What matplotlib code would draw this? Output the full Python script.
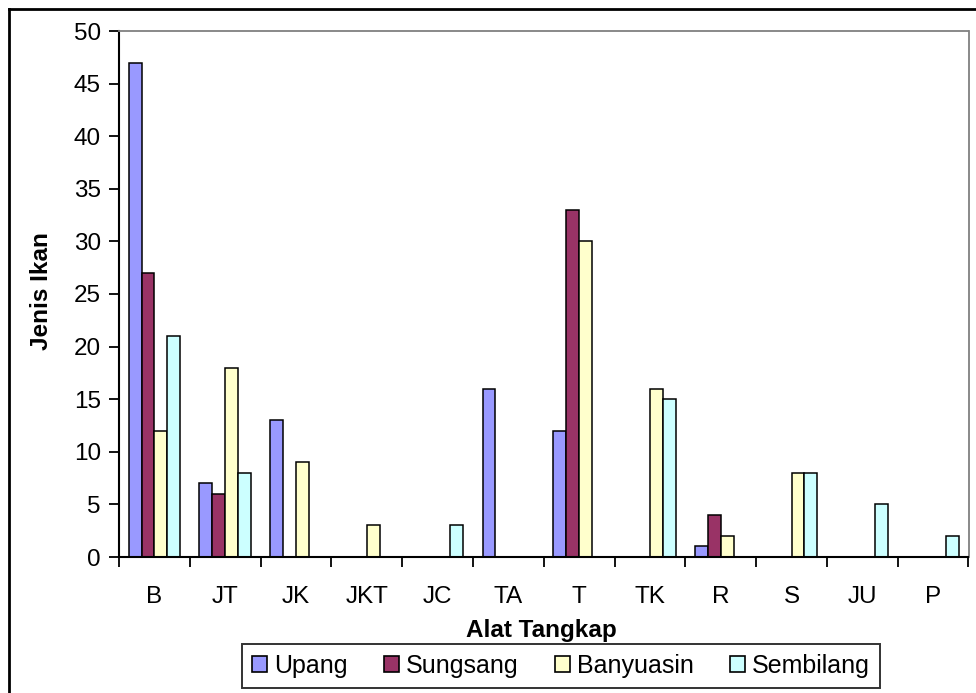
import numpy as np
import matplotlib.pyplot as plt
from matplotlib.lines import Line2D
from matplotlib.patches import Patch

plt.rcParams['font.family'] = ['Liberation Sans', 'DejaVu Sans']

# data
categories = ['B', 'JT', 'JK', 'JKT', 'JC', 'TA', 'T', 'TK', 'R', 'S', 'JU', 'P']
series = ['Upang', 'Sungsang', 'Banyuasin', 'Sembilang']
upang = [47, 7, 13, 0, 0, 16, 12, 0, 1, 0, 0, 0]
sungsang = [27, 6, 0, 0, 0, 0, 33, 0, 4, 0, 0, 0]
banyuasin = [12, 18, 9, 3, 0, 0, 30, 16, 2, 8, 0, 0]
sembilang = [21, 8, 0, 0, 3, 0, 0, 15, 0, 8, 5, 2]
colors = ['#9999FF', '#993366', '#FFFFCC', '#CCFFFF']

W, H = 976, 693
fig = plt.figure(figsize=(W / 100, H / 100), dpi=100)
ax = fig.add_axes([119 / W, 1 - 557 / H, (968.5 - 119) / W, (557 - 31) / H])

x = np.arange(len(categories))
w = 1 / 5.5
for i, (vals, c, name) in enumerate(zip([upang, sungsang, banyuasin, sembilang], colors, series)):
    ax.bar(x + (i - 1.5) * w, vals, w, color=c, edgecolor='black', linewidth=1.1,
           label=name, zorder=2)

ax.set_xlim(-0.5, len(categories) - 0.5)
ax.set_ylim(0, 50)
ax.set_yticks(np.arange(0, 51, 5))
ax.set_xticks(np.arange(-0.5, len(categories), 1))
ax.set_xticklabels([])
ax.set_xticks(x, minor=True)
ax.set_xticklabels(categories, minor=True)
ax.tick_params(axis='x', which='major', direction='out', length=7, width=1.3)
ax.tick_params(axis='x', which='minor', length=0, pad=21, labelsize=17.5)
ax.tick_params(axis='y', direction='out', length=7, width=1.3, pad=6, labelsize=17.5)

for s in ['top', 'right']:
    ax.spines[s].set_color('#808080')
    ax.spines[s].set_linewidth(1.3)
for s in ['left', 'bottom']:
    ax.spines[s].set_color('black')
    ax.spines[s].set_linewidth(1.5)

fig.text(541 / W, 1 - 630 / H, 'Alat Tangkap', ha='center', va='center',
         fontsize=17.5, fontweight='bold')
fig.text(42 / W, 1 - 291 / H, 'Jenis Ikan', ha='center', va='center',
         rotation=90, fontsize=17.5, fontweight='bold')

handles = [Patch(facecolor=c, edgecolor='black', linewidth=1.2) for c in colors]
leg = fig.legend(handles, series, loc='center', bbox_to_anchor=(561 / W, 1 - 666 / H),
                 ncol=4, fontsize=18, frameon=True, fancybox=False,
                 handlelength=0.6, handleheight=0.6, handletextpad=0.28,
                 columnspacing=1.45, borderpad=0.4, borderaxespad=0)
leg.get_frame().set_edgecolor('black')
leg.get_frame().set_linewidth(1.4)

# outer chart frame
fig.add_artist(Line2D([9 / W, 1], [1 - 9 / H, 1 - 9 / H], color='black', lw=2,
                      transform=fig.transFigure))
fig.add_artist(Line2D([9 / W, 9 / W], [0, 1 - 9 / H], color='black', lw=2,
                      transform=fig.transFigure))

fig.savefig('out.png', dpi=100)
